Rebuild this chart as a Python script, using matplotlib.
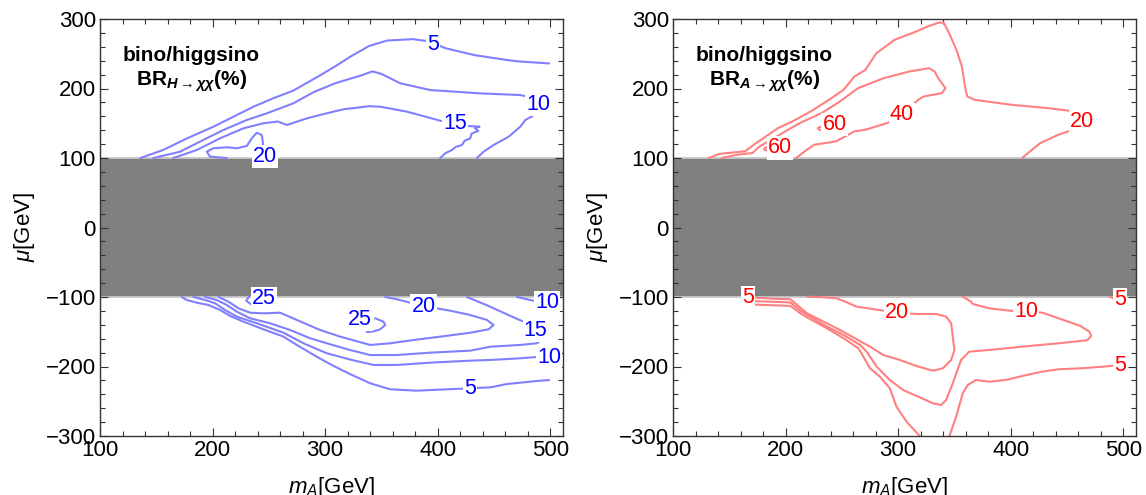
import matplotlib
matplotlib.use("Agg")
import matplotlib.pyplot as plt
from matplotlib.ticker import MultipleLocator

plt.rcParams['font.family'] = ['Liberation Sans', 'DejaVu Sans']
plt.rcParams['mathtext.fontset'] = 'custom'
plt.rcParams['mathtext.rm'] = 'Liberation Sans'
plt.rcParams['mathtext.it'] = 'Liberation Sans:italic'
plt.rcParams['mathtext.bf'] = 'Liberation Sans:bold:italic'

# ---------------- data: contour paths (m_A [GeV], mu [GeV]) ----------------
# Left panel: BR(H -> chi chi) [%], upper region (mu > 100)
h_up_5 = [(136, 100), (156, 111.5), (177, 128), (200.7, 145), (218.5, 159.4), (236.3, 173.8),
          (254, 186), (271.8, 197), (295.6, 219), (310, 233), (322.6, 246), (338.8, 261),
          (355, 269), (377.7, 271), (392, 268), (406.8, 258), (432.7, 248), (461.5, 241),
          (471.5, 239), (499, 236)]
h_up_10 = [(147.4, 100), (171, 109), (191.8, 126), (209.6, 140.3), (230.4, 154.7), (248.2, 164.3),
           (271.8, 178.7), (290, 195), (309.7, 208), (332.4, 219), (342, 224.6), (350, 221),
           (366.7, 207.5), (393.3, 197.8), (437.8, 193), (473.3, 190.6), (486, 186), (492, 175),
           (484, 160), (478, 155), (473.3, 145), (463, 130.7), (449.6, 118.7), (440.7, 109),
           (434.8, 100)]
h_up_15 = [(165.2, 100), (186, 111.5), (206.7, 128.4), (227.4, 142.7), (245.2, 150), (258, 152.5),
           (266, 147.5), (283.7, 157), (295.6, 162), (316, 170), (338.8, 174.5), (348.9, 173.8),
           (372.6, 166.7), (402.2, 153.7), (427.4, 146), (437.2, 145), (433, 143), (436, 139),
           (430, 135), (428.9, 128.3), (424, 125), (421.5, 118.7), (416, 116), (412.6, 111.5),
           (406.7, 106.8), (402.2, 100)]
h_up_20 = [(212.6, 100), (197.8, 102), (194.8, 109), (200.7, 114), (212.6, 115.4), (221.5, 114),
           (230.4, 117.3), (234.8, 128.3), (239.3, 136.4), (243.7, 133), (244.6, 123.5), (245, 115)]

# Left panel, lower region (mu < -100)
h_lo_5 = [(172.6, -100), (177, -104.3), (186, -108.2), (196.3, -111.5), (206.7, -118.7),
          (215.6, -127.3), (227.4, -135.5), (245.2, -146.5), (263, -157), (274.8, -169),
          (292.6, -186), (306, -198), (322.2, -211), (340, -224.2), (357.8, -232.8),
          (381.5, -234.8), (408.1, -232.8), (428.9, -231.4), (446.7, -230), (461.5, -225.2),
          (491, -220.4), (499, -219.5)]
h_lo_10 = [(183, -100), (193.3, -104.3), (202.2, -109), (211, -118.7), (221.5, -128.3),
           (239.3, -137.8), (263, -151.4), (280.7, -166.6), (301.5, -181), (322.2, -190),
           (343, -197.8), (363.7, -197.8), (393.3, -194.5), (428.9, -191.6), (446.7, -190.6),
           (473.3, -188.2), (491, -186), (500, -186)]
h_lo_10b = [(470.4, -100), (482.2, -104.3), (490, -107), (500, -111)]
h_lo_15 = [(193.3, -100), (203.7, -104.3), (212.6, -111.5), (221.5, -121), (233.3, -130.6),
           (251.1, -137.8), (268.9, -147.5), (286.7, -159.4), (304.4, -168), (322.2, -176.3),
           (340, -183.5), (363.7, -183.5), (393.3, -180.1), (428.9, -177.2), (446.7, -171.5),
           (473.3, -169), (488.1, -166.6), (495, -158), (490, -142), (476.3, -135.5),
           (465.9, -128.3), (446.7, -114), (426, -100)]
h_lo_20 = [(205.2, -100), (214, -106.7), (223, -116.3), (233.3, -122.6), (245.2, -123.5),
           (260, -122.6), (274.8, -133), (295.6, -147.5), (313.3, -157), (322.2, -161),
           (340, -169), (357.8, -166.6), (378.5, -161.9), (402.2, -157.1), (428.9, -151.4),
           (445.2, -146.5), (449.6, -140.3), (443.7, -133), (428.9, -125.9), (411.1, -119.7),
           (387.4, -113), (375.6, -108.2), (363.7, -103.3), (353.3, -100)]
h_lo_25a = [(232.7, -99), (229.8, -105.3), (234.8, -111.1)]
h_lo_25b = [(344.4, -130.6), (351.8, -135.5), (353.3, -140.3), (348.9, -146.5), (343, -149.4),
            (337, -150.4)]

h_labels = [("5", 395.5, 264), ("10", 489.3, 176.6), ("15", 415.6, 150), ("20", 246.7, 102),
            ("25", 245.8, -102), ("25", 331.1, -132), ("20", 387.4, -113), ("10", 497.4, -108),
            ("15", 487, -147.5), ("10", 499, -187), ("5", 428.9, -231.4)]

# Right panel: BR(A -> chi chi) [%], upper region
a_up_20 = [(131.7, 100), (141.4, 106), (164, 109.6), (173.8, 121.5), (183.5, 132), (193.2, 143),
           (206, 152.6), (222.3, 167), (238.5, 183.7), (251.5, 198), (261, 217), (270.9, 226.8),
           (280.6, 250.7), (296.8, 270), (316, 282), (326, 289), (335.6, 294.7), (340.5, 294.7),
           (345.3, 279.4), (351.8, 255.5), (356.6, 231.6), (359.9, 198), (361.5, 188.5),
           (368, 183.7), (400.3, 176.6), (432.7, 171.8), (452, 168), (463, 165), (470, 155),
           (463, 145), (442.4, 133.5), (426.2, 121.5), (410, 100)]
a_up_40 = [(143, 100), (157.6, 104.8), (170.6, 107.2), (177, 116.7), (188.3, 127.3),
           (199.7, 138.3), (212.6, 150.2), (232, 164.6), (248.2, 181.3), (264.4, 200.5),
           (287, 214.8), (309.7, 224.4), (327.5, 229.2), (332.4, 224.4), (335.6, 214.8),
           (342, 200.5), (338.8, 193.3), (322.6, 188.5), (317.8, 183.7), (303.2, 162.2),
           (290.3, 150.2), (270.9, 140.7), (261, 138.3), (245, 124), (225.6, 119.1), (219, 112),
           (209.4, 100)]
a_up_60a = [(235, 139), (230, 140.5), (228.5, 143), (232, 145.5)]
a_up_60b = [(186, 110), (181.5, 111.5), (181, 114), (184.5, 116.5)]

# Right panel, lower region
a_lo_5 = [(173, -111), (190, -112), (200, -112.5), (204.4, -112.9), (213.2, -123.5),
          (222.1, -132.1), (236.8, -145.1), (251.5, -159.4), (264.7, -173.8), (269.1, -185.8),
          (275, -202.6), (283.8, -214.6), (292.6, -231.4), (298.5, -257.8), (307.4, -279.3),
          (319.1, -300)]
a_lo_5b = [(345.6, -300), (351.5, -272.2), (357.4, -238.6), (361.8, -226.6), (369.1, -219.4),
           (380.9, -221.8), (395.6, -219.4), (410.3, -213.6), (427.9, -207.4), (442.6, -204),
           (465, -202.4), (491, -199), (500, -199)]
a_lo_5c = [(487.7, -100), (494, -103.3), (500, -105)]
a_lo_10 = [(173, -106), (190, -107), (200, -107.5), (204.4, -108.1), (213.2, -119.6),
           (222.1, -128.3), (236.8, -142.7), (251.5, -154.6), (266.2, -169), (272, -178.6),
           (280.9, -200.2), (292.6, -219.4), (304.4, -233.8), (319.1, -244.3), (330.9, -253),
           (338.2, -255.4), (342.6, -248.2), (348.5, -224.2), (355.9, -190.6), (363.2, -178.6),
           (380.9, -176.2), (410.3, -171.4), (442.6, -166.6), (468, -162.2), (471.5, -156),
           (469.8, -149.8), (461.8, -141.6), (442.6, -130.7), (427.9, -122.5), (413.8, -121.1),
           (398.5, -119.6), (380.9, -116.3), (366.2, -110), (364.7, -106.7), (357.4, -99.5)]
a_lo_20 = [(173, -101), (190, -102.5), (200, -103), (204.4, -103.3), (210.3, -111.5),
           (219.1, -123.5), (233.8, -135.5), (248.5, -147.5), (263.2, -160.9), (275, -171.4),
           (286.8, -183.4), (301.5, -190.6), (316.2, -199.3), (330.9, -206), (339.7, -202.6),
           (347.1, -190.6), (350, -176.2), (348.5, -157), (347.1, -137.9), (342.6, -128.3),
           (333.8, -124.4), (316.2, -124.4), (299.1, -122.5), (286.8, -119.6), (263.2, -113.9),
           (253, -106.7), (245.6, -101.9), (233.8, -100.5), (219.1, -99.5)]

a_labels = [("20", 463.4, 152.6), ("40", 303.2, 162.2), ("60", 243.4, 147.8), ("60", 194.8, 114.4),
            ("5", 166.7, -101), ("20", 299.1, -122.5), ("10", 413.8, -121.1), ("5", 497.4, -103.3),
            ("5", 497.4, -199)]

h_lines = [h_up_5, h_up_10, h_up_15, h_up_20, h_lo_5, h_lo_10, h_lo_10b, h_lo_15, h_lo_20,
           h_lo_25a, h_lo_25b]
a_lines = [a_up_20, a_up_40, a_up_60a, a_up_60b, a_lo_5, a_lo_5b, a_lo_5c, a_lo_10, a_lo_20]

x_ticks = [100, 200, 300, 400, 500]
y_ticks = [-300, -200, -100, 0, 100, 200, 300]

# ---------------- figure ----------------
W, H = 1146, 495
fig = plt.figure(figsize=(W / 100, H / 100), dpi=100)
ax_l = fig.add_axes([100 / W, 1 - 436 / H, 462.7 / W, 417 / H])
ax_r = fig.add_axes([673 / W, 1 - 436 / H, 462.7 / W, 417 / H])


def setup(ax, lines, labels, line_col, text_col, title):
    ax.set_xlim(100, 511)
    ax.set_ylim(-300, 300)
    ax.axhspan(-100, 100, facecolor='#808080', edgecolor='none', zorder=1)
    ax.axhline(100, color='#c8c8c8', lw=1.3, zorder=1.5)
    ax.axhline(-100, color='#c8c8c8', lw=1.3, zorder=1.5)
    for seg in lines:
        xs, ys = zip(*seg)
        ax.plot(xs, ys, color=line_col, lw=1.5, zorder=2, solid_joinstyle='round',
                solid_capstyle='round')
    for s, x, y in labels:
        ax.text(x, y, s, ha='center', va='center', fontsize=15.5, color=text_col, zorder=3,
                bbox=dict(boxstyle='square,pad=0.05', fc='white', ec='none'))
    ax.set_xticks(x_ticks)
    ax.set_yticks(y_ticks)
    ax.xaxis.set_minor_locator(MultipleLocator(20))
    ax.yaxis.set_minor_locator(MultipleLocator(20))
    ax.tick_params(which='both', direction='in', top=True, right=True, color='#333333',
                   labelsize=16, width=0.8)
    ax.tick_params(which='major', length=6, pad=3)
    ax.tick_params(which='minor', length=3.5)
    for sp in ax.spines.values():
        sp.set_color('#333333')
        sp.set_linewidth(1.0)
    ax.set_xlabel('$m_A$[GeV]', fontsize=16)
    ax.xaxis.set_label_coords(0.5, -0.093)
    ax.set_ylabel('$\\mu$[GeV]', fontsize=16)
    ax.yaxis.set_label_coords(-0.137, 0.5)
    ax.text(181, 248, 'bino/higgsino', ha='center', va='center', fontsize=15,
            fontweight='bold', zorder=4)
    ax.text(181, 211, title, ha='center', va='center', fontsize=15, fontweight='bold', zorder=4)


setup(ax_l, h_lines, h_labels, '#8080ff', '#0000ff', 'BR$_{\\mathbf{H\\rightarrow\\chi\\chi}}$(%)')
setup(ax_r, a_lines, a_labels, '#ff8080', '#ff0000', 'BR$_{\\mathbf{A\\rightarrow\\chi\\chi}}$(%)')

fig.savefig('out.png', dpi=100)
